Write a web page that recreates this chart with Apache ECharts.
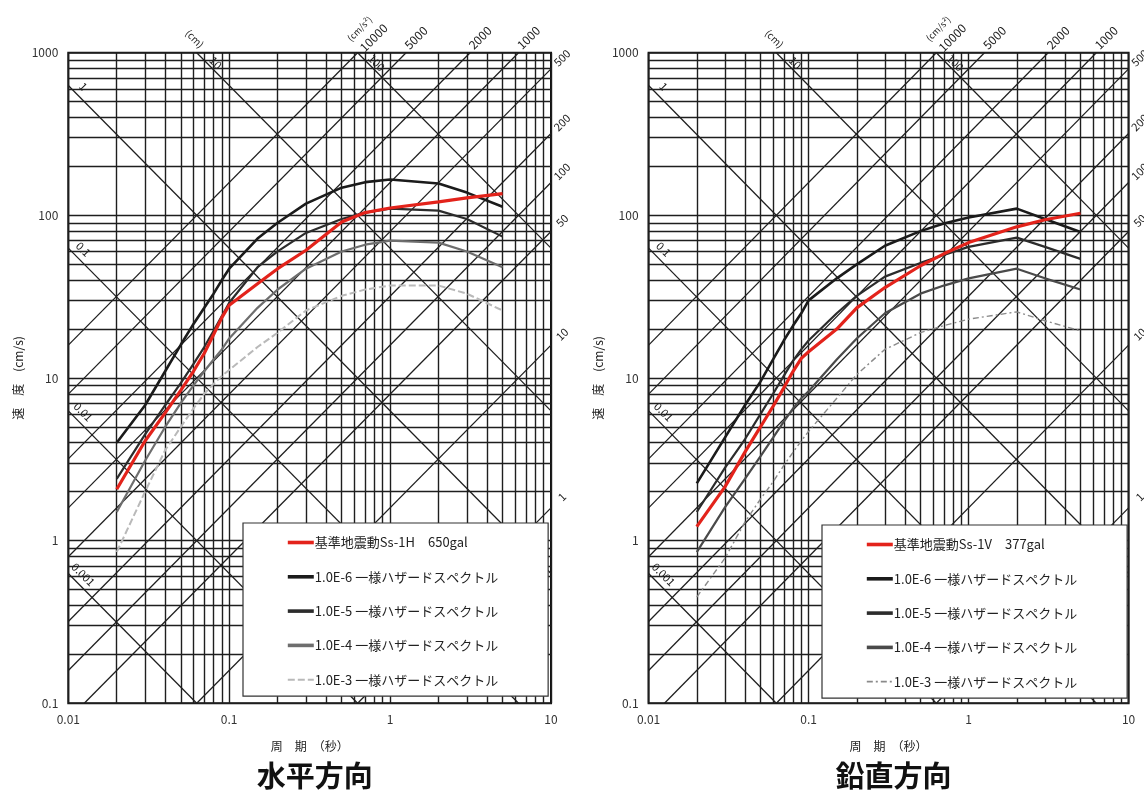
<!DOCTYPE html>
<html>
<head>
<meta charset="utf-8">
<script src="https://cdn.jsdelivr.net/npm/echarts@6/dist/echarts.min.js"></script>
<style>
  html, body { margin: 0; padding: 0; background: #ffffff; }
  #chart { width: 1144px; height: 794px; }
</style>
</head>
<body>
<div id="chart"></div>
<script>
// ---- axis ranges and tick values -------------------------------------------
const periodRange = [0.01, 10];        // 周期 (s)
const velocityRange = [0.1, 1000];     // 速度 (cm/s)
const periodDecades = [0.01, 0.1, 1];
const velocityDecades = [0.1, 1, 10, 100];
const minorSteps = [1, 2, 3, 4, 5, 6, 7, 8, 9];

// tripartite guide lines: displacement (cm) and acceleration (cm/s2)
const dispLevels = [0.001, 0.01, 0.1, 1, 10, 100];
const dispEdgeLabels = [1, 0.1, 0.01, 0.001];   // labelled at the left edge
const dispTopLabels = [10, 100];                // labelled at the top edge
const accelLevels = [1, 10, 50, 100, 200, 500, 1000, 2000, 5000, 10000];
const accelTopLabels = [10000, 5000, 2000, 1000];
const accelRightLabels = [500, 200, 100, 50, 10, 1];

// ---- spectra ---------------------------------------------------------------
const periods = [0.02, 0.03, 0.04, 0.05, 0.06, 0.07, 0.08, 0.09, 0.1, 0.15, 0.2, 0.3, 0.5, 0.7, 1, 2, 3, 5];

// 水平方向
const hSs1H   = [2.07, 4.1, 6.1, 8.4, 11, 14.2, 18.5, 23.5, 28, 38, 47, 61, 91, 104, 111, 121, 128, 136];
const hUhs1e6 = [4.0, 6.8, 11, 16, 21.5, 27, 33, 40, 47, 72, 90, 118, 148, 160, 166, 157, 138, 113];
const hUhs1e5 = [2.4, 4.5, 6.8, 9.3, 12.2, 15.5, 19.5, 24, 29, 48, 60, 78, 95, 104, 110, 107, 95, 74];
const hUhs1e4 = [1.5, 3.1, 5.0, 7.0, 9.0, 11, 13, 15, 17.5, 27, 35, 47, 60, 66, 70, 68, 60, 48];
const hUhs1e3 = [0.85, 2.0, 3.6, 5.0, 6.5, 8.0, 9.2, 10.3, 11.2, 15.5, 19, 26, 32, 35, 37, 37, 33, 26];

// 鉛直方向
const vSs1V   = [1.22, 2.14, 3.5, 5.0, 6.7, 8.7, 11, 13.2, 14.5, 20, 27, 36, 49, 58, 68, 85, 94, 103];
const vUhs1e6 = [2.25, 4.3, 6.8, 9.5, 13, 17, 21, 25, 30, 41, 50, 65, 80, 89, 97, 110, 95, 79];
const vUhs1e5 = [1.5, 2.8, 4.2, 6.0, 8.0, 10.3, 12.8, 15, 17, 25, 32, 42, 51, 57, 64, 73, 64, 54];
const vUhs1e4 = [0.85, 1.6, 2.4, 3.3, 4.3, 5.4, 6.5, 7.5, 8.3, 13, 17.5, 25, 33, 37, 41, 47, 41, 35];
const vUhs1e3 = [0.45, 0.78, 1.3, 1.8, 2.3, 2.9, 3.5, 4.1, 4.7, 7.5, 10.5, 15, 19, 21, 23, 25.5, 22.5, 19.5];

const hazardNames = [
  '1.0E-6 一様ハザードスペクトル',
  '1.0E-5 一様ハザードスペクトル',
  '1.0E-4 一様ハザードスペクトル',
  '1.0E-3 一様ハザードスペクトル'
];

// ---- layout / styles ---------------------------------------------------------
const FONT = '"Noto Sans CJK JP", "Noto Sans", sans-serif';
const INK = '#1e1e1e';

const panels = [
  {
    title: '水平方向',
    rect: { left: 68.3, top: 52.7, width: 482.7, height: 650.6 },
    legendBox: { left: 243, top: 523 },
    design: { name: '基準地震動Ss-1H　650gal', values: hSs1H },
    hazards: [hUhs1e6, hUhs1e5, hUhs1e4, hUhs1e3],
    hazardStyles: [
      { color: '#1b1b1b', width: 2.6, type: 'solid' },
      { color: '#2c2c2c', width: 2.2, type: 'solid' },
      { color: '#6e6e6e', width: 2.2, type: 'solid' },
      { color: '#b9b9b9', width: 2.0, type: [7, 3] }
    ]
  },
  {
    title: '鉛直方向',
    rect: { left: 648.6, top: 52.7, width: 480, height: 650.6 },
    legendBox: { left: 822, top: 525 },
    design: { name: '基準地震動Ss-1V　377gal', values: vSs1V },
    hazards: [vUhs1e6, vUhs1e5, vUhs1e4, vUhs1e3],
    hazardStyles: [
      { color: '#1b1b1b', width: 2.6, type: 'solid' },
      { color: '#2c2c2c', width: 2.2, type: 'solid' },
      { color: '#4a4a4a', width: 2.2, type: 'solid' },
      { color: '#8a8a8a', width: 1.4, type: [6, 3, 2, 3] }
    ]
  }
];

// ---- guide geometry in data space ---------------------------------------------
const TWO_PI = 2 * Math.PI;
const clean = v => +v.toPrecision(6);

function gridValues(decades, last) {
  const out = [];
  decades.forEach(d => minorSteps.forEach(m => out.push(clean(d * m))));
  out.push(last);
  return out;
}

// displacement D: V = 2*pi*D / T  (clipped to the plot range)
function dispSegment(D) {
  const t0 = Math.max(periodRange[0], TWO_PI * D / velocityRange[1]);
  const t1 = Math.min(periodRange[1], TWO_PI * D / velocityRange[0]);
  return [[t0, TWO_PI * D / t0], [t1, TWO_PI * D / t1]];
}
// acceleration A: V = A * T / (2*pi)
function accelSegment(A) {
  const t0 = Math.max(periodRange[0], TWO_PI * velocityRange[0] / A);
  const t1 = Math.min(periodRange[1], TWO_PI * velocityRange[1] / A);
  return [[t0, A * t0 / TWO_PI], [t1, A * t1 / TWO_PI]];
}

function guideData() {
  const segs = [];
  gridValues(periodDecades, periodRange[1]).forEach(t =>
    segs.push({ coords: [[t, velocityRange[0]], [t, velocityRange[1]]] }));
  gridValues(velocityDecades, velocityRange[1]).forEach(v =>
    segs.push({ coords: [[periodRange[0], v], [periodRange[1], v]] }));
  return segs;
}
function diagonalData() {
  const segs = [];
  dispLevels.forEach(D => segs.push({ coords: dispSegment(D) }));
  accelLevels.forEach(A => segs.push({ coords: accelSegment(A) }));
  return segs;
}

// legend entries: each panel shows its own line styles for the hazard spectra
function legendEntries(p) {
  const items = [{ name: p.design.name }];
  hazardNames.forEach((n, k) => {
    const st = p.hazardStyles[k];
    items.push({
      name: n,
      lineStyle: { color: st.color, type: st.type, width: k === 3 ? Math.max(st.width, 1.8) : 3.6 }
    });
  });
  return items;
}

// ---- option -----------------------------------------------------------------
const option = {
  backgroundColor: '#ffffff',
  animation: false,
  textStyle: { fontFamily: FONT },
  title: panels.map(p => ({
    text: p.title,
    left: p.rect.left + p.rect.width / 2,
    top: 756,
    textAlign: 'center',
    textStyle: { fontFamily: FONT, fontSize: 29, fontWeight: 'bold', color: '#111' }
  })),
  grid: panels.map(p => ({
    left: p.rect.left, top: p.rect.top, width: p.rect.width, height: p.rect.height,
    show: true, borderColor: '#111', borderWidth: 2, backgroundColor: 'transparent'
  })),
  xAxis: panels.map((p, i) => ({
    type: 'log', logBase: 10, gridIndex: i,
    min: periodRange[0], max: periodRange[1],
    name: '周　期　（秒）', nameLocation: 'middle', nameGap: 37,
    nameTextStyle: { fontFamily: FONT, fontSize: 12, color: '#222' },
    axisLine: { show: false }, axisTick: { show: false }, splitLine: { show: false },
    axisLabel: {
      margin: 10, fontSize: 12, color: '#333', fontFamily: FONT,
      formatter: v => String(+(+v).toPrecision(4))
    }
  })),
  yAxis: panels.map((p, i) => ({
    type: 'log', logBase: 10, gridIndex: i,
    min: velocityRange[0], max: velocityRange[1],
    name: '速　度　(cm/s)', nameLocation: 'middle', nameGap: 44,
    nameTextStyle: { fontFamily: FONT, fontSize: 12, color: '#222' },
    axisLine: { show: false }, axisTick: { show: false }, splitLine: { show: false },
    axisLabel: {
      margin: 10, fontSize: 12, color: '#333', fontFamily: FONT,
      formatter: v => String(+(+v).toPrecision(4))
    }
  })),
  legend: panels.map(p => ({
    left: p.legendBox.left, top: p.legendBox.top,
    orient: 'vertical',
    itemWidth: 26, itemHeight: 14, itemGap: 21.3,
    padding: [13, 50, 10, 43],
    borderColor: '#333', borderWidth: 1.2, backgroundColor: '#ffffff',
    selectedMode: false,
    itemStyle: { opacity: 0 },
    lineStyle: { width: 3.6 },
    textStyle: { fontFamily: FONT, fontSize: 13, color: '#222', padding: [0, 0, 0, -4] },
    data: legendEntries(p)
  })),
  series: []
};

panels.forEach((p, i) => {
  option.series.push({
    type: 'lines', coordinateSystem: 'cartesian2d', xAxisIndex: i, yAxisIndex: i,
    silent: true, z: 1, polyline: false,
    lineStyle: { color: INK, width: 1.4, opacity: 1, curveness: 0 },
    data: guideData()
  });
  option.series.push({
    type: 'lines', coordinateSystem: 'cartesian2d', xAxisIndex: i, yAxisIndex: i,
    silent: true, z: 1, polyline: false,
    lineStyle: { color: INK, width: 1.25, opacity: 1, curveness: 0 },
    data: diagonalData()
  });
  // hazard spectra, lowest level drawn first
  for (let k = p.hazards.length - 1; k >= 0; k--) {
    const st = p.hazardStyles[k];
    option.series.push({
      type: 'line', name: hazardNames[k], xAxisIndex: i, yAxisIndex: i,
      z: 3, symbol: 'none', smooth: false,
      lineStyle: { color: st.color, width: st.width, type: st.type },
      itemStyle: { color: st.color },
      data: periods.map((t, j) => [t, p.hazards[k][j]])
    });
  }
  option.series.push({
    type: 'line', name: p.design.name, xAxisIndex: i, yAxisIndex: i,
    z: 4, symbol: 'none', smooth: false,
    lineStyle: { color: '#e3231b', width: 3.2 },
    itemStyle: { color: '#e3231b' },
    data: periods.map((t, j) => [t, p.design.values[j]])
  });
});

const chart = echarts.init(document.getElementById('chart'));
chart.setOption(option);

// ---- scale labels on the diagonal guides ---------------------------------------
function labelText(x, y, text, rot, size) {
  return {
    type: 'text', x: x, y: y, rotation: rot, silent: true, z: 10,
    style: {
      text: text, fill: '#222', fontSize: size || 11, fontFamily: FONT,
      align: 'center', verticalAlign: 'middle'
    }
  };
}
const graphics = [];
panels.forEach((p, i) => {
  const toPx = pt => chart.convertToPixel({ gridIndex: i }, pt);
  const up = Math.PI / 4, down = -Math.PI / 4;
  // displacement labels at the left edge
  dispEdgeLabels.forEach(D => {
    const q = toPx(dispSegment(D)[0]);
    graphics.push(labelText(q[0] + 15, q[1] + 1, String(D), down));
  });
  // displacement labels at the top edge
  dispTopLabels.forEach(D => {
    const q = toPx(dispSegment(D)[0]);
    graphics.push(labelText(q[0] + 19, q[1] + 10, String(D), down));
  });
  const qcm = toPx(dispSegment(10)[0]);
  graphics.push(labelText(qcm[0] - 2, qcm[1] - 14, '(cm)', down, 10));
  // acceleration labels at the top edge
  accelTopLabels.forEach(A => {
    const q = toPx(accelSegment(A)[1]);
    const dx = String(A).length > 4 ? 16 : 10;
    graphics.push(labelText(q[0] + dx, q[1] - 15, String(A), up, 12));
  });
  const qa = toPx(accelSegment(10000)[1]);
  graphics.push(labelText(qa[0] + 2, qa[1] - 24, '(cm/s²)', up, 9));
  // acceleration labels at the right edge
  accelRightLabels.forEach(A => {
    const q = toPx(accelSegment(A)[1]);
    graphics.push(labelText(q[0] + 11, q[1] - 11, String(A), up));
  });
});
chart.setOption({ graphic: graphics });
</script>
</body>
</html>
